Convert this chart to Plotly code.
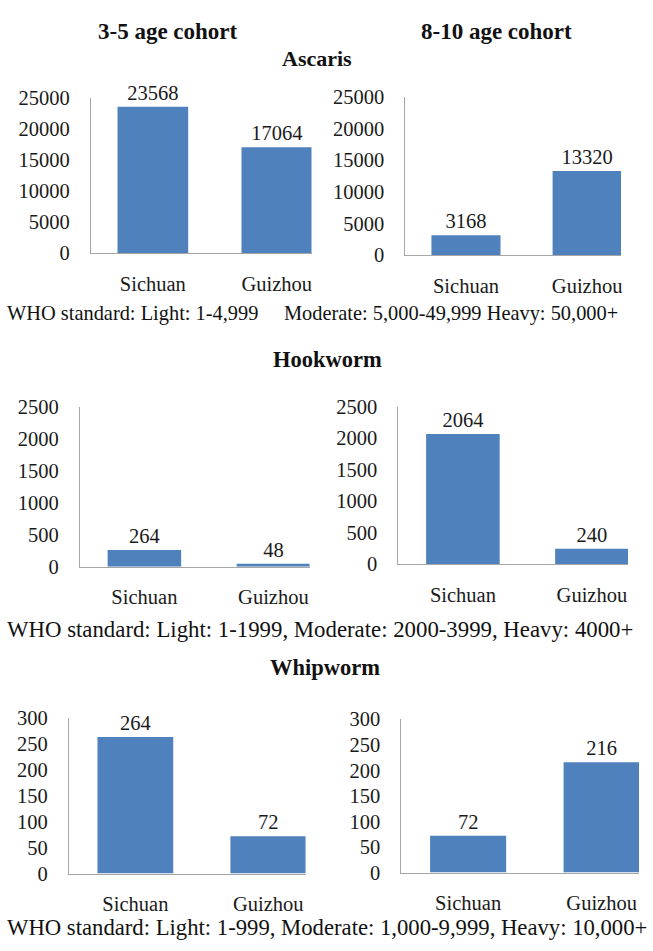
import plotly.graph_objects as go

# Egg counts (eggs per gram) by province, for each worm and age cohort
provinces = ["Sichuan", "Guizhou"]

ascaris_3_5 = [23568, 17064]
ascaris_8_10 = [3168, 13320]
hookworm_3_5 = [264, 48]
hookworm_8_10 = [2064, 240]
whipworm_3_5 = [264, 72]
whipworm_8_10 = [72, 216]

ascaris_ticks = [0, 5000, 10000, 15000, 20000, 25000]
hookworm_ticks = [0, 500, 1000, 1500, 2000, 2500]
whipworm_ticks = [0, 50, 100, 150, 200, 250, 300]

W, H = 653, 951
BAR = "#4F81BD"
SERIF = "Liberation Serif, Times New Roman, serif"
AXIS_GREY = "#A6A6A6"
TEXT = "#1a1a1a"


def px_x(v):
    return v / W


def px_y(v):
    return 1 - v / H


# (values, ticks, plot-left px, plot-right px, plot-bottom px, plot-top px)
panels = [
    (ascaris_3_5, ascaris_ticks, 91, 312, 248, 89),
    (ascaris_8_10, ascaris_ticks, 406, 622, 250, 88),
    (hookworm_3_5, hookworm_ticks, 80, 310, 569, 405),
    (hookworm_8_10, hookworm_ticks, 399, 629, 566, 405),
    (whipworm_3_5, whipworm_ticks, 69, 306, 883, 724),
    (whipworm_8_10, whipworm_ticks, 402, 640, 882, 725),
]

fig = go.Figure()
layout = {}
for i, (vals, ticks, x0, x1, yb, yt) in enumerate(panels, start=1):
    xa = "x" if i == 1 else f"x{i}"
    ya = "y" if i == 1 else f"y{i}"
    fig.add_trace(go.Bar(
        x=provinces, y=vals, xaxis=xa, yaxis=ya,
        marker=dict(color=BAR, line=dict(width=0)),
        width=0.57,
        text=[str(v) for v in vals], textposition="outside",
        textfont=dict(family=SERIF, size=20.5, color=TEXT),
        cliponaxis=False, showlegend=False, hoverinfo="skip",
    ))
    layout[f"xaxis{'' if i == 1 else i}"] = dict(
        domain=[px_x(x0), px_x(x1)], anchor=ya,
        type="category", range=[-0.5, 1.28],
        showgrid=False, zeroline=False,
        showline=True, linecolor=AXIS_GREY, linewidth=1,
        ticks="", ticklabelstandoff=12,
        tickfont=dict(family=SERIF, size=20.5, color=TEXT),
    )
    layout[f"yaxis{'' if i == 1 else i}"] = dict(
        domain=[px_y(yb), px_y(yt)], anchor=xa,
        range=[0, ticks[-1]], tickvals=ticks,
        ticktext=[str(t) for t in ticks],
        showgrid=False, zeroline=False,
        showline=True, linecolor=AXIS_GREY, linewidth=1,
        ticks="", ticklabelstandoff=16,
        tickfont=dict(family=SERIF, size=20.5, color=TEXT),
    )


def note(text, x, y, size, bold=False, xanchor="center"):
    return dict(
        text=f"<b>{text}</b>" if bold else text,
        x=px_x(x), y=px_y(y), xref="paper", yref="paper",
        xanchor=xanchor, yanchor="middle", showarrow=False,
        font=dict(family=SERIF, size=size, color="#111111"),
    )


nb = "\u00a0"
annotations = [
    note("3-5 age cohort", 168, 21, 23, bold=True),
    note("8-10 age cohort", 497, 21, 23, bold=True),
    note("Ascaris", 317, 49, 22, bold=True),
    note("Hookworm", 328, 357, 22.5, bold=True),
    note("Whipworm", 325, 672, 22.5, bold=True),
    note(f"WHO standard: Light: 1-4,999{nb * 5}Moderate: 5,000-49,999 Heavy: 50,000+",
         5, 310, 20.4, xanchor="left"),
    note("WHO standard: Light: 1-1999, Moderate: 2000-3999, Heavy: 4000+",
         5, 633, 22.8, xanchor="left"),
    note("WHO standard: Light: 1-999, Moderate: 1,000-9,999, Heavy: 10,000+",
         5, 938, 22.7, xanchor="left"),
]

fig.update_layout(
    width=W, height=H,
    margin=dict(l=0, r=0, t=0, b=0),
    paper_bgcolor="white", plot_bgcolor="white",
    annotations=annotations,
    **layout,
)

fig.write_html("out.html", config={"displayModeBar": False})
